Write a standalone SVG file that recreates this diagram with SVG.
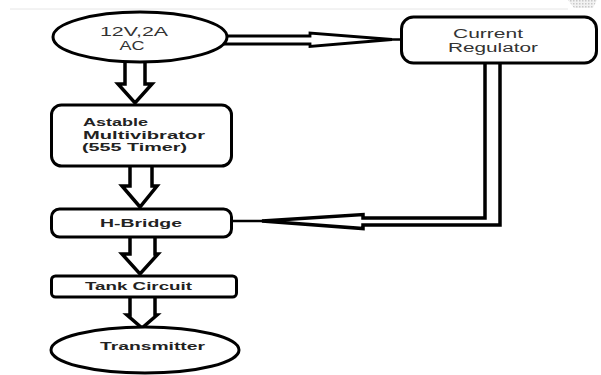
<svg xmlns="http://www.w3.org/2000/svg" width="601" height="375" viewBox="0 0 601 375">
<style>
.box{fill:#fff;stroke:#000;stroke-width:3}
.conn{fill:#fff;stroke:#000;stroke-width:3.5;stroke-linejoin:miter}
.ln{fill:none;stroke:#000;stroke-width:2.5}
.t{font-family:"Liberation Sans","Noto Sans",sans-serif;font-size:12px;fill:#333}
.b{font-family:"Liberation Sans","Noto Sans",sans-serif;font-size:10.5px;font-weight:bold;fill:#222}
</style>
<defs>
<pattern id="hatch" width="3" height="3" patternUnits="userSpaceOnUse">
<rect width="3" height="3" fill="#f2f2f2"/>
<rect width="1.5" height="1.5" fill="#c8c8c8"/>
</pattern>
</defs>
<rect width="601" height="375" fill="#fff"/>
<line x1="10" y1="9" x2="568" y2="9" stroke="#e6e6e6" stroke-width="1"/>
<polygon points="568,0 597,0 593,8 574,8" fill="url(#hatch)"/>
<g id="connectors">
<path class="conn" d="M125,60 V84 H118 L135,103 L152,84 H145 V60"/>
<path class="conn" d="M130,166 V186 H122 L140,207 L157,186 H152 V166"/>
<path class="conn" d="M130,237 V254 H122 L140,274 L158,254 H155 V237"/>
<path class="conn" d="M130,297 V315 H127 L142,328 L157,315 H155 V297"/>
<path class="conn" style="stroke-width:2.8" d="M224,36 H310 V33 L392,39.5 L310,46.5 V44 H224"/>
<line class="ln" x1="390" y1="39.5" x2="401" y2="39.5"/>
<path class="conn" d="M485,62 V218 H363 V214.5 L262,221 L363,228.5 V225 H500 V62"/>
<line class="ln" x1="264" y1="221" x2="233" y2="221"/>
</g>
<g id="n-source">
<ellipse class="box" cx="140" cy="37" rx="87" ry="25"/>
<text class="t" x="134" y="36" text-anchor="middle" textLength="68" lengthAdjust="spacingAndGlyphs">12V,2A</text>
<text class="t" x="132" y="50" text-anchor="middle" textLength="25" lengthAdjust="spacingAndGlyphs">AC</text>
</g>
<g id="n-regulator">
<rect class="box" x="401.5" y="17" width="195" height="46" rx="12"/>
<text class="t" x="488" y="38" text-anchor="middle" textLength="70" lengthAdjust="spacingAndGlyphs">Current</text>
<text class="t" x="493" y="52" text-anchor="middle" textLength="90" lengthAdjust="spacingAndGlyphs">Regulator</text>
</g>
<g id="n-astable">
<rect class="box" x="51.5" y="105" width="180" height="61" rx="10"/>
<text class="b" x="83" y="126" textLength="65" lengthAdjust="spacingAndGlyphs">Astable</text>
<text class="b" x="83" y="138.5" textLength="122" lengthAdjust="spacingAndGlyphs">Multivibrator</text>
<text class="b" x="82" y="151" textLength="105" lengthAdjust="spacingAndGlyphs">(555 Timer)</text>
</g>
<g id="n-hbridge">
<rect class="box" x="51.5" y="209" width="180" height="28" rx="8"/>
<text class="b" x="100" y="227" textLength="82" lengthAdjust="spacingAndGlyphs">H-Bridge</text>
</g>
<g id="n-tank">
<rect class="box" x="51.5" y="276" width="185" height="21" rx="4"/>
<text class="b" x="85" y="290" textLength="107" lengthAdjust="spacingAndGlyphs">Tank Circuit</text>
</g>
<g id="n-transmitter">
<ellipse class="box" cx="145" cy="350" rx="94" ry="23"/>
<text class="b" x="100" y="350" textLength="105" lengthAdjust="spacingAndGlyphs">Transmitter</text>
</g>
</svg>
